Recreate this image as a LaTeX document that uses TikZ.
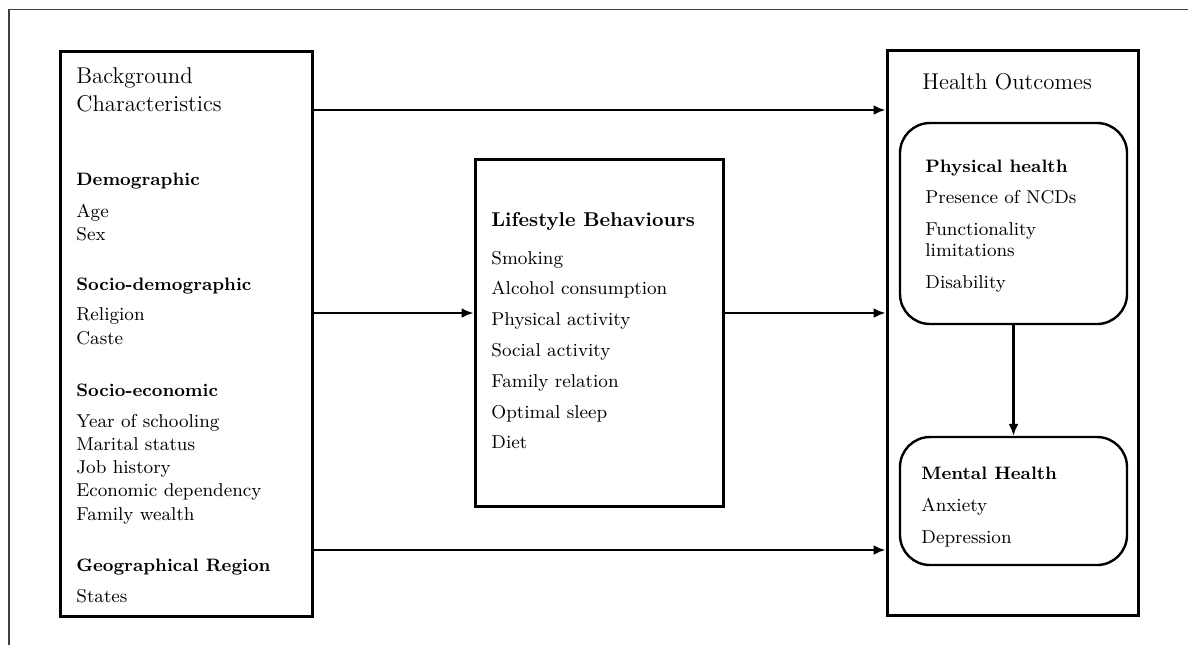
\documentclass[tikz,border=0pt]{standalone}
\usetikzlibrary{positioning, arrows.meta, calc}

\begin{document}
\begin{tikzpicture}[x=0.5pt, y=-0.5pt,
  box/.style={draw, line width=1.5pt, inner sep=0pt},
  rbox/.style={draw, line width=1.2pt, rounded corners=15pt, inner sep=0pt},
  title/.style={anchor=base west, inner sep=0pt, font=\fontsize{11.4}{13}\selectfont},
  head/.style={anchor=base west, inner sep=0pt, font=\fontsize{9}{11}\selectfont\bfseries},
  item/.style={anchor=base west, inner sep=0pt, font=\fontsize{9.3}{11}\selectfont},
  arr/.style={-{Latex[length=6pt,width=5pt]}, line width=1.2pt}]

\useasboundingbox (0,0) rectangle (1188,645);
\draw[line width=0.7pt, black!75] (9,645) -- (9,9.5) -- (1188,9.5);

% boxes
\node[box, minimum width=126pt, minimum height=282.5pt] (bg) at (186,333.5) {};
\node[box, minimum width=124pt, minimum height=173.5pt] (ls) at (599,332.5) {};
\node[box, minimum width=125.5pt, minimum height=282.5pt] (ho) at (1012.5,332.5) {};
\node[rbox, minimum width=113.5pt, minimum height=100.5pt] (ph) at (1013.5,223.5) {};
\node[rbox, minimum width=113.5pt, minimum height=64pt] (mh) at (1013.5,501) {};

% background characteristics
\node[title] (bg-t1) at (76,83) {Background};
\node[title] (bg-t2) at (76,111) {Characteristics};
\node[head] (demo) at (76,185) {Demographic};
\foreach \t [count=\i] in {Age, Sex}
  \node[item] (demo-\i) at (76,193.5+23.5*\i) {\t};
\node[head] (sdem) at (76,290) {Socio-demographic};
\foreach \t [count=\i] in {Religion, Caste}
  \node[item] (sdem-\i) at (76,297+23.5*\i) {\t};
\node[head] (secon) at (76,396) {Socio-economic};
\foreach \t [count=\i] in {Year of schooling, Marital status, Job history,
    Economic dependency, Family wealth}
  \node[item] (secon-\i) at (76,403.7+23.3*\i) {\t};
\node[head] (geo) at (76,571) {Geographical Region};
\node[item] (geo-1) at (76,602) {States};

% lifestyle
\node[head, font=\fontsize{10}{12}\selectfont\bfseries] (ls-t) at (491,226) {Lifestyle Behaviours};
\foreach \t [count=\i] in {Smoking, Alcohol consumption, Physical activity,
    Social activity, Family relation, Optimal sleep, Diet}
  \node[item] (ls-\i) at (491,233.2+30.8*\i) {\t};

% health outcomes
\node[title] (ho-t) at (922,89) {Health Outcomes};
\node[head] (ph-t) at (925,172) {Physical health};
\node[item] (ph-1) at (925,203) {Presence of NCDs};
\node[item] (ph-2) at (925,235) {Functionality};
\node[item] (ph-3) at (925,256) {limitations};
\node[item] (ph-4) at (925,288) {Disability};
\node[head] (mh-t) at (921,479) {Mental Health};
\node[item] (mh-1) at (921,511) {Anxiety};
\node[item] (mh-2) at (921,543) {Depression};

% arrows
\coordinate (r1) at (0,110);
\coordinate (r2) at (0,313);
\coordinate (r3) at (0,550);
\draw[arr] (bg.east |- r1) -- (ho.west |- r1);
\draw[arr] (bg.east |- r2) -- (ls.west |- r2);
\draw[arr] (ls.east |- r2) -- (ho.west |- r2);
\draw[arr] (bg.east |- r3) -- (ho.west |- r3);
\draw[arr] (ph.south) -- (mh.north);
\end{tikzpicture}
\end{document}
